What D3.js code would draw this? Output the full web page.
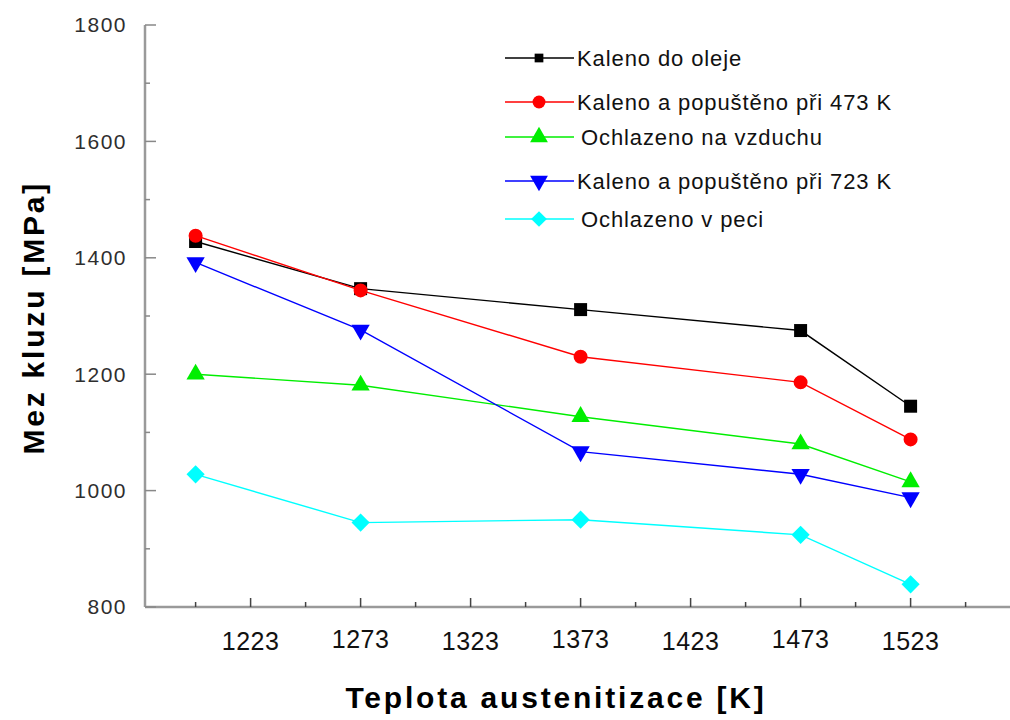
<!DOCTYPE html>
<html>
<head>
<meta charset="utf-8">
<script src="https://cdn.jsdelivr.net/npm/d3@7"></script>
<style>
    body { margin: 0; background: #fff; }
    svg { display: block; }
    .tick-y { font-family: "Liberation Sans", Arial, sans-serif; font-size: 21px; fill: #2e2e2e; letter-spacing: 1.5px; }
    .tick-x { font-family: "Liberation Sans", Arial, sans-serif; font-size: 25px; fill: #111; letter-spacing: 0.5px; }
    .axis-title { font-family: "Liberation Sans", Arial, sans-serif; font-weight: bold; fill: #000; }
    .legend-text { font-family: "Liberation Sans", Arial, sans-serif; font-size: 22px; fill: #111; letter-spacing: 0.9px; }
</style>
</head>
<body>
<div class="charts-div"></div>
<script>
// data
const temperatures = [1198, 1273, 1373, 1473, 1523];
const xTickValues = [1223, 1273, 1323, 1373, 1423, 1473, 1523];
const xMinorTicks = [1198, 1248, 1298, 1348, 1398, 1448, 1498, 1548];
const yTickValues = [800, 1000, 1200, 1400, 1600, 1800];
const yMinorTicks = [900, 1100, 1300, 1500, 1700];

const seriesNames = [
    "Kaleno do oleje",
    "Kaleno a popuštěno při 473 K",
    "Ochlazeno na vzduchu",
    "Kaleno a popuštěno při 723 K",
    "Ochlazeno v peci"
];
const oilQuenched = [1428, 1347, 1311, 1275, 1145];
const tempered473 = [1438, 1344, 1230, 1186, 1088];
const airCooled = [1200, 1181, 1127, 1080, 1015];
const tempered723 = [1392, 1276, 1067, 1028, 988];
const furnaceCooled = [1028, 945, 950, 924, 839];

const allSeries = [oilQuenched, tempered473, airCooled, tempered723, furnaceCooled];

const seriesColors = ["#000000", "#ff0000", "#00ee00", "#0000ff", "#00ffff"];
// symbol, area, rotation in degrees
const seriesSymbols = [
    { type: d3.symbolSquare, size: 169, rotate: 0 },
    { type: d3.symbolCircle, size: 154, rotate: 0 },
    { type: d3.symbolTriangle, size: 145, rotate: 0 },
    { type: d3.symbolTriangle, size: 145, rotate: 180 },
    { type: d3.symbolSquare, size: 165, rotate: 45 }
];
const legendScale = [0.45, 0.85, 0.95, 0.95, 0.75];

const width = 1010;
const height = 720;
const margins = { left: 145, top: 25, bottom: 113 };

const svg = d3.select(".charts-div").append("svg")
    .attr("width", width)
    .attr("height", height);

svg.append("rect").attr("width", width).attr("height", height).attr("fill", "#fff");

const xScale = d3.scaleLinear().domain([1175, 1573]).range([margins.left, margins.left + 398 * 2.2]);
const yScale = d3.scaleLinear().domain([800, 1800]).range([height - margins.bottom, margins.top]);

const markerPath = (s, scale = 1) => d3.symbol().type(seriesSymbols[s].type).size(seriesSymbols[s].size * scale)();

// axes, ticks pointing inward
const xAxisY = yScale(800);
const axisG = svg.append("g");

axisG.append("line")
    .attr("x1", margins.left).attr("x2", width)
    .attr("y1", xAxisY).attr("y2", xAxisY)
    .attr("stroke", "#9a9a9a").attr("stroke-width", 2.5);

axisG.append("line")
    .attr("x1", margins.left).attr("x2", margins.left)
    .attr("y1", yScale(1800)).attr("y2", xAxisY)
    .attr("stroke", "#9a9a9a").attr("stroke-width", 2.5);

axisG.selectAll(".x-major").data(xTickValues).join("line")
    .attr("x1", (d) => xScale(d)).attr("x2", (d) => xScale(d))
    .attr("y1", xAxisY).attr("y2", xAxisY - 9)
    .attr("stroke", "#444").attr("stroke-width", 1.5);

axisG.selectAll(".x-minor").data(xMinorTicks).join("line")
    .attr("x1", (d) => xScale(d)).attr("x2", (d) => xScale(d))
    .attr("y1", xAxisY).attr("y2", xAxisY - 5)
    .attr("stroke", "#444").attr("stroke-width", 1.5);

axisG.selectAll(".y-major").data(yTickValues).join("line")
    .attr("x1", margins.left).attr("x2", margins.left + 11)
    .attr("y1", (d) => yScale(d)).attr("y2", (d) => yScale(d))
    .attr("stroke", "#888").attr("stroke-width", 1.5);

axisG.selectAll(".y-minor").data(yMinorTicks).join("line")
    .attr("x1", margins.left).attr("x2", margins.left + 5)
    .attr("y1", (d) => yScale(d)).attr("y2", (d) => yScale(d))
    .attr("stroke", "#888").attr("stroke-width", 1.5);

axisG.selectAll(".tick-y").data(yTickValues).join("text")
    .attr("class", "tick-y")
    .attr("x", 127)
    .attr("y", (d) => yScale(d))
    .attr("dy", "0.35em")
    .attr("text-anchor", "end")
    .text((d) => d);

// scanned labels sit a little unevenly, every other one lower
axisG.selectAll(".tick-x").data(xTickValues).join("text")
    .attr("class", "tick-x")
    .attr("x", (d) => xScale(d))
    .attr("y", (d, i) => xAxisY + 41 + (i % 2 === 0 ? 2 : 0))
    .attr("text-anchor", "middle")
    .text((d) => d);

svg.append("text")
    .attr("class", "axis-title")
    .attr("transform", `translate(44, ${yScale(1297)}) rotate(-90)`)
    .attr("text-anchor", "middle")
    .style("font-size", "30px")
    .style("letter-spacing", "2.8px")
    .text("Mez kluzu [MPa]");

svg.append("text")
    .attr("class", "axis-title")
    .attr("x", 556)
    .attr("y", 708)
    .attr("text-anchor", "middle")
    .style("font-size", "30px")
    .style("letter-spacing", "2.8px")
    .text("Teplota austenitizace [K]");

// series lines and markers
const line = d3.line().x((d, i) => xScale(temperatures[i])).y((d) => yScale(d));

allSeries.forEach((values, s) => {
    const g = svg.append("g").attr("class", "visualPlotting");
    g.append("path")
        .datum(values)
        .attr("d", line)
        .attr("fill", "none")
        .attr("stroke", seriesColors[s])
        .attr("stroke-width", 1.4);

    g.selectAll("path.marker").data(values).join("path")
        .attr("class", "marker")
        .attr("d", markerPath(s))
        .attr("transform", (d, i) => `translate(${xScale(temperatures[i])},${yScale(d)}) rotate(${seriesSymbols[s].rotate})`)
        .attr("fill", seriesColors[s]);
});

// legend
const legendRows = [58, 102, 137, 181, 219];
const legend = svg.append("g").attr("class", "legend");
seriesNames.forEach((name, s) => {
    const row = legend.append("g").attr("transform", `translate(505, ${legendRows[s]})`);
    row.append("line")
        .attr("x1", 0).attr("x2", 69)
        .attr("stroke", seriesColors[s]).attr("stroke-width", 1.4);
    row.append("path")
        .attr("d", markerPath(s, legendScale[s]))
        .attr("transform", `translate(34,0) rotate(${seriesSymbols[s].rotate})`)
        .attr("fill", seriesColors[s]);
    row.append("text")
        .attr("class", "legend-text")
        .attr("x", s === 2 || s === 4 ? 76 : 72)
        .attr("dy", "0.35em")
        .text(name);
});
</script>
</body>
</html>
